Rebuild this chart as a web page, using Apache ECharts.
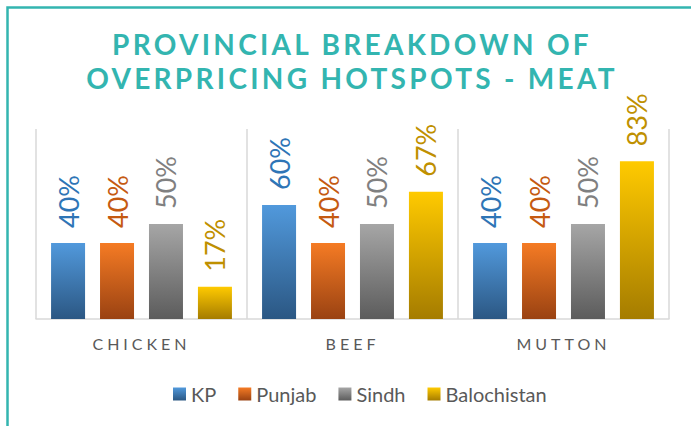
<meta charset="utf-8">
<script src="https://cdn.jsdelivr.net/npm/echarts@6.0.0/dist/echarts.min.js"></script>
<style>
  html, body { margin: 0; padding: 0; background: #fff; }
  #chart { width: 691px; height: 426px; }
</style>
<body>
<div id="chart"></div>
<script>

// data (percent)
var categories = ['CHICKEN', 'BEEF', 'MUTTON'];
var provinces = ['KP', 'Punjab', 'Sindh', 'Balochistan'];
var kp = [40, 60, 40];
var punjab = [40, 40, 40];
var sindh = [50, 50, 50];
var balochistan = [17, 67, 83];

var titleLines = ['PROVINCIAL BREAKDOWN OF', 'OVERPRICING HOTSPOTS - MEAT'];

// top/bottom of each bar gradient, and the label colour
var barTop = ['#5199dc', '#f57b24', '#a6a6a6', '#ffca00'];
var barBottom = ['#2b5783', '#9a4212', '#5c5c5c', '#a57c00'];
var labelColor = ['#2e75b6', '#c55a11', '#808080', '#bf9000'];

var teal = '#33b5b0';

var grad = function (i) {
	return new echarts.graphic.LinearGradient(0, 0, 0, 1, [
		{ offset: 0, color: barTop[i] },
		{ offset: 1, color: barBottom[i] }
	]);
};

var values = [kp, punjab, sindh, balochistan];
var series = [];
for (var i = 0; i < provinces.length; i++) {
	series.push({
		name: provinces[i],
		type: 'bar',
		data: values[i],
		barWidth: 34,
		barGap: '44%',
		itemStyle: { color: grad(i) },
		label: {
			show: true,
			position: 'top',
			distance: 15,
			rotate: 90,
			align: 'left',
			verticalAlign: 'middle',
			formatter: '{c}%',
			fontFamily: 'Lato',
			fontSize: 27,
			color: labelColor[i]
		}
	});
}

var dom = document.getElementById('chart');
var chart = echarts.init(dom, null, { renderer: 'svg' });

var option = {
	animation: false,
	backgroundColor: '#fff',
	title: {
		text: titleLines.join('\n'),
		left: 352,
		textAlign: 'center',
		top: 27,
		padding: 0,
		textStyle: {
			fontFamily: 'Lato',
			fontWeight: 'bold',
			fontSize: 28,
			lineHeight: 34,
			color: teal
		}
	},
	graphic: [{
		type: 'rect',
		silent: true,
		shape: { x: 7.5, y: 7.5, width: 760, height: 500 },
		style: { fill: 'none', stroke: teal, lineWidth: 2.5 }
	}],
	legend: {
		data: provinces,
		left: 168,
		top: 379,
		itemWidth: 13,
		itemHeight: 13,
		itemGap: 22,
		icon: 'rect',
		textStyle: { fontFamily: 'Lato', fontSize: 20, color: '#595959' }
	},
	grid: { left: 36, right: 22, top: 129, bottom: 107 },
	xAxis: {
		type: 'category',
		data: categories,
		axisTick: { show: false },
		axisLine: { lineStyle: { color: '#d9d9d9', width: 1.5 } },
		splitLine: { show: true, lineStyle: { color: '#d9d9d9', width: 1.5 } },
		axisLabel: { margin: 16, fontFamily: 'Lato', fontSize: 16, color: '#595959' }
	},
	yAxis: {
		type: 'value',
		min: 0,
		max: 100,
		show: false
	},
	series: series
};

chart.setOption(option);

// spread the letters of the title and the category names like the original
var spaced = {};
titleLines.forEach(function (t) { spaced[t] = '3.3px'; });
categories.forEach(function (t) { spaced[t] = '4px'; });
dom.querySelectorAll('text').forEach(function (t) {
	var s = spaced[t.textContent];
	if (s) t.style.letterSpacing = s;
});
</script>
</body>
